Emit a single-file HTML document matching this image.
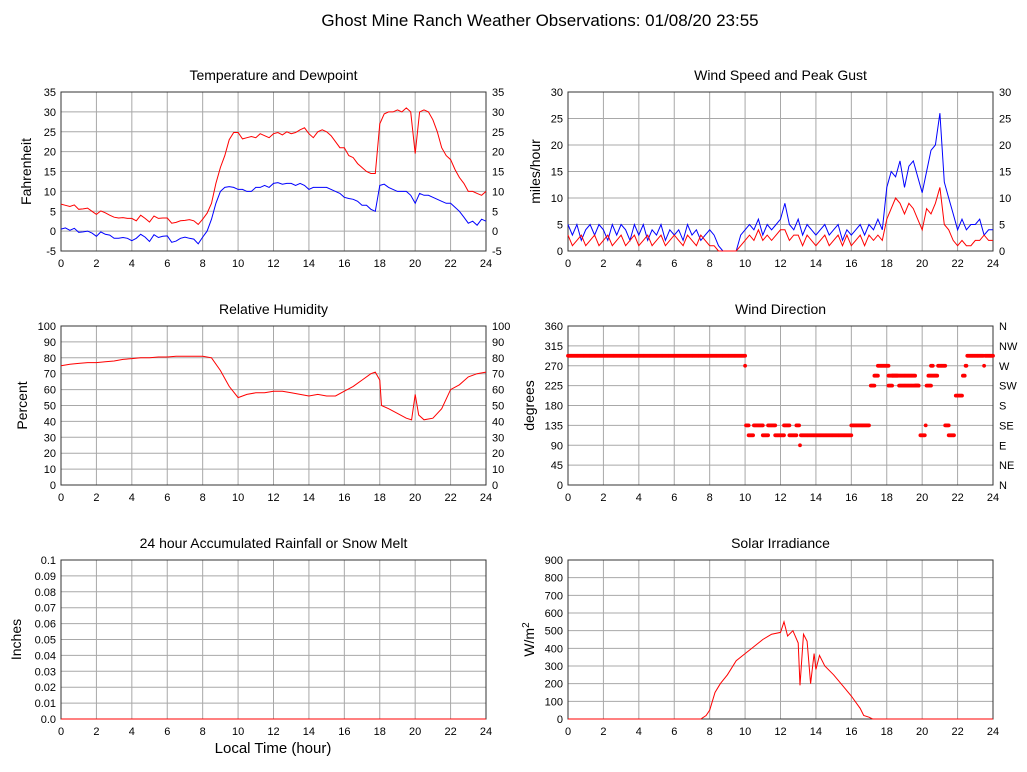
<!DOCTYPE html>
<html><head><meta charset="utf-8"><style>
html,body{margin:0;padding:0;background:#fff;}
svg{display:block;font-family:"Liberation Sans",Arial,sans-serif;}
</style></head><body>
<svg id="c" width="1027" height="772" viewBox="0 0 1027 772" xmlns="http://www.w3.org/2000/svg">
<text x="540" y="26" font-size="17" text-anchor="middle">Ghost Mine Ranch Weather Observations: 01/08/20 23:55</text>
</svg>
<script>
// ---- data ----
const tempQ = [6.8,6.5,6.2,6.6,5.5,5.6,5.8,5,4.2,5.1,4.6,4,3.5,3.3,3.4,3.2,3.2,2.6,4,3.2,2.3,3.8,3.2,3.3,3.3,2,2.2,2.6,2.7,2.9,2.6,1.7,3,4.5,7,12,16,19,23,24.8,24.8,23.2,23.5,23.8,23.5,24.5,24,23.5,24.5,24.8,24.2,25,24.5,24.8,25.5,26,24.5,23.5,25,25.5,25,24,22.5,21,21,19,18.5,17,16,15,14.5,14.5,27,29.5,30,30,30.5,30,31,30,19.5,30,30.5,30,28,25,21,19,18,15.5,13.5,12,10,10,9.5,9,10];
const dewQ = [0.5,0.8,0.2,0.7,-0.3,-0.2,0,-0.5,-1.3,-0.2,-0.8,-1,-1.8,-1.8,-1.6,-1.8,-2.4,-1.8,-0.8,-1.5,-2.6,-0.9,-1.6,-1.3,-1.2,-2.8,-2.5,-1.8,-1.5,-1.8,-2,-3.2,-1.5,0,3,7,10,11,11.2,11,10.5,10.5,10,10,11,11,11.5,11,12,12.2,11.8,12,12,11.5,12,11.5,10.5,11,11,11,11,10.5,10,9.5,8.5,8.2,8,7.5,6.5,6.5,5.5,5,11.5,11.8,11,10.5,10,10,10,9,7,9.5,9,9,8.5,8,7.5,7,7,6,5,3.5,2,2.5,1.5,3,2.5];
const gustQ = [5,3,5,2,4,5,3,5,4, 2,5,3,5,4,2,5,3, 5,2,4,3,5,2,4,3, 4,2,5,3,4,2,3,4, 3,1,0,0,0,0,3,4, 5,4,6,3,5,4,5,6, 9,5,4,6,3,5,4,3, 4,5,3,4,5,2,4,3, 4,5,3,5,4,6,4,12, 15,14,17,12,16,17,14,11, 15,19,20,26,13,10,7,4, 6,4,5,5,6,3,4,4];
const speedQ = [3,1,2,3,1,2,3,1,2, 3,1,2,3,1,2,3,1, 2,3,1,2,3,1,2,3, 2,1,3,2,1,3,2,1, 1,0,0,0,0,0,1,2, 3,2,4,2,3,2,3,4, 4,2,3,3,1,3,2,1, 2,3,1,2,3,1,3,1, 2,3,1,3,2,3,2,6, 8,10,9,7,9,8,6,4, 8,7,9,12,5,4,2,1, 2,1,1,2,2,3,2,2];
const rhHours = [0,0.5,1,1.5,2,2.5,3,3.5,4,4.5,5,5.5,6,6.5,7,7.5,8,8.5,9,9.5,10,10.5,11,11.5,12,12.5,13,13.5,14,14.5,15,15.5,16,16.5,17,17.5,17.75,18,18.1,18.5,19,19.5,19.8,20,20.2,20.5,21,21.5,22,22.5,23,23.5,24];
const rhValues = [75,76,76.5,77,77,77.5,78,79,79.5,80,80,80.5,80.5,81,81,81,81,80,72,62,55,57,58,58,59,59,58,57,56,57,56,56,59,62,66,70,71,66,50,48,45,42,41,57,44,41,42,48,60,63,68,70,71];
const dirRunStart = [0,10,10.05,10.2,10.5,11,11.3,11.7,12.2,12.5,12.9,13.1,13.15,16,17.1,17.3,17.5,18.1,18.3,18.7,19.9,20.2,20.25,20.35,20.9,21.3,21.5,21.9,22.3,22.45,22.55,23.5,23.55];
const dirRunEnd   = [10,10,10.2,10.45,11,11.3,11.7,12.2,12.5,12.9,13.05,13.1,16,17,17.3,17.5,18.1,18.3,18.7,19.8,20.15,20.2,20.5,20.85,21.3,21.5,21.8,22.25,22.4,22.5,23.45,23.5,24];
const dirRunValue = [292.5,270,135,112.5,135,112.5,135,112.5,135,112.5,135,90,112.5,135,225,247.5,270,225,247.5,225,112.5,135,225,247.5,270,135,112.5,202.5,247.5,270,292.5,270,292.5];
const dirRun2Start = [18.1,18.75,19.6,20.5];
const dirRun2End = [18.6,19.6,19.8,20.6];
const dirRun2Value = [247.5,247.5,225,270];
const solarHours = [0,7.5,7.8,8,8.3,8.6,9,9.5,10,10.5,11,11.5,12,12.2,12.4,12.7,13,13.1,13.3,13.5,13.7,13.9,14,14.2,14.5,15,15.5,16,16.5,16.7,17,17.2,24];
const solarValues = [0,0,20,50,150,200,250,330,370,410,450,480,490,550,470,500,430,190,480,440,200,370,280,360,300,250,190,130,60,20,10,0,0];
const rainHours = [0,24];
const rainValues = [0,0];
const xTicks = [0,2,4,6,8,10,12,14,16,18,20,22,24];

const NS="http://www.w3.org/2000/svg";
const svg=document.getElementById('c');
function mk(tag,attrs,parent){const e=document.createElementNS(NS,tag);for(const k in attrs)e.setAttribute(k,attrs[k]);(parent||svg).appendChild(e);return e;}
function qh(arr){return arr.map((v,i)=>i*0.25);}

function panel(cfg){
  const g=mk('g',{});
  
  
  const L=cfg.x0,R=cfg.x1,T=cfg.y0,B=cfg.y1;
  const xs=h=>L+(R-L)*h/24;
  const ys=v=>B-(B-T)*(v-cfg.min)/(cfg.max-cfg.min);
  cfg.xs=xs;cfg.ys=ys;
  const t=mk('text',{x:(L+R)/2,y:T-12,'font-size':14,'text-anchor':'middle'},g);
  t.textContent=cfg.title;
  
  
  xTicks.forEach(h=>{
    mk('line',{x1:xs(h),x2:xs(h),y1:T,y2:B,stroke:'#a8a8a8','stroke-width':1},g);
    const tx=mk('text',{x:xs(h),y:B+16,'font-size':11,'text-anchor':'middle'},g);
    tx.textContent=h;
    
    
  });
  cfg.yTicks.forEach((v,i)=>{
    mk('line',{x1:L,x2:R,y1:ys(v),y2:ys(v),stroke:'#a8a8a8','stroke-width':1},g);
    const ty=mk('text',{x:L-5,y:ys(v)+4,'font-size':11,'text-anchor':'end'},g);
    ty.textContent=cfg.yLabels?cfg.yLabels[i]:v;
    
    
    if(cfg.rLabels){
      const tr=mk('text',{x:R+6,y:ys(v)+4,'font-size':11,'text-anchor':'start'},g);
      tr.textContent=cfg.rLabels[i];
      
      
    }
  });
  mk('rect',{x:L,y:T,width:R-L,height:B-T,fill:'none',stroke:'#333','stroke-width':1},g);
  const cy=(T+B)/2, ax=L-cfg.labOff;
  const yl=mk('text',{x:ax,y:cy,'font-size':14,'text-anchor':'middle',transform:`rotate(-90 ${ax} ${cy})`},g);
  yl.textContent=cfg.ylabel;
  
  
  if(cfg.sup){const s=mk('tspan',{dy:-5,'font-size':10},yl);s.textContent=cfg.sup;}
  return g;
}
function line(cfg,g,hours,vals,color,name){
  const d=hours.map((h,i)=>(i?'L':'M')+cfg.xs(h).toFixed(1)+' '+cfg.ys(vals[i]).toFixed(1)).join(' ');
  const p=mk('path',{d:d,fill:'none',stroke:color,'stroke-width':1},g);
  
  
}
const LX0=61,LX1=486,RX0=568,RX1=993;
const rows=[[92,251],[326,485],[560,719]];

// Temperature
const c1={name:'temperature-panel',title:'Temperature and Dewpoint',x0:LX0,x1:LX1,y0:rows[0][0],y1:rows[0][1],min:-5,max:35,yTicks:[-5,0,5,10,15,20,25,30,35],ylabel:'Fahrenheit',labOff:30};
c1.rLabels=c1.yTicks;
const g1=panel(c1);
line(c1,g1,qh(tempQ),tempQ,'#ff0000','temperature-line');
line(c1,g1,qh(dewQ),dewQ,'#0000ff','dewpoint-line');

// Wind speed
const c2={name:'wind-speed-panel',title:'Wind Speed and Peak Gust',x0:RX0,x1:RX1,y0:rows[0][0],y1:rows[0][1],min:0,max:30,yTicks:[0,5,10,15,20,25,30],ylabel:'miles/hour',labOff:28};
c2.rLabels=c2.yTicks;
const g2=panel(c2);
line(c2,g2,qh(gustQ),gustQ,'#0000ff','gust-line');
line(c2,g2,qh(speedQ),speedQ,'#ff0000','speed-line');

// RH
const c3={name:'humidity-panel',title:'Relative Humidity',x0:LX0,x1:LX1,y0:rows[1][0],y1:rows[1][1],min:0,max:100,yTicks:[0,10,20,30,40,50,60,70,80,90,100],ylabel:'Percent',labOff:34};
c3.rLabels=c3.yTicks;
const g3=panel(c3);
line(c3,g3,rhHours,rhValues,'#ff0000','humidity-line');

// Wind direction
const c4={name:'wind-direction-panel',title:'Wind Direction',x0:RX0,x1:RX1,y0:rows[1][0],y1:rows[1][1],min:0,max:360,yTicks:[0,45,90,135,180,225,270,315,360],ylabel:'degrees',labOff:34,rLabels:['N','NE','E','SE','S','SW','W','NW','N']};
const g4=panel(c4);
function dots(s,e,v){
  for(let h=s;h<=e+1e-6;h+=0.05){
    const c=mk('circle',{cx:c4.xs(h).toFixed(1),cy:c4.ys(v).toFixed(1),r:1.9,fill:'#ff0000'},g4);
    
    
  }
}
dirRunStart.forEach((s,i)=>dots(s,dirRunEnd[i],dirRunValue[i]));
dirRun2Start.forEach((s,i)=>dots(s,dirRun2End[i],dirRun2Value[i]));

// Rain
const c5={name:'rainfall-panel',title:'24 hour Accumulated Rainfall or Snow Melt',x0:LX0,x1:LX1,y0:rows[2][0],y1:rows[2][1],min:0,max:0.1,yTicks:[0,0.01,0.02,0.03,0.04,0.05,0.06,0.07,0.08,0.09,0.1],yLabels:['0.0','0.01','0.02','0.03','0.04','0.05','0.06','0.07','0.08','0.09','0.1'],ylabel:'Inches',labOff:40};
const g5=panel(c5);
line(c5,g5,rainHours,rainValues,'#ff0000','rainfall-line');
const xl=mk('text',{x:273,y:753,'font-size':15,'text-anchor':'middle'});
xl.textContent='Local Time (hour)';



// Solar
const c6={name:'solar-panel',title:'Solar Irradiance',x0:RX0,x1:RX1,y0:rows[2][0],y1:rows[2][1],min:0,max:900,yTicks:[0,100,200,300,400,500,600,700,800,900],ylabel:'W/m',sup:'2',labOff:34};
const g6=panel(c6);
line(c6,g6,solarHours,solarValues,'#ff0000','solar-line');
</script>
</body></html>
